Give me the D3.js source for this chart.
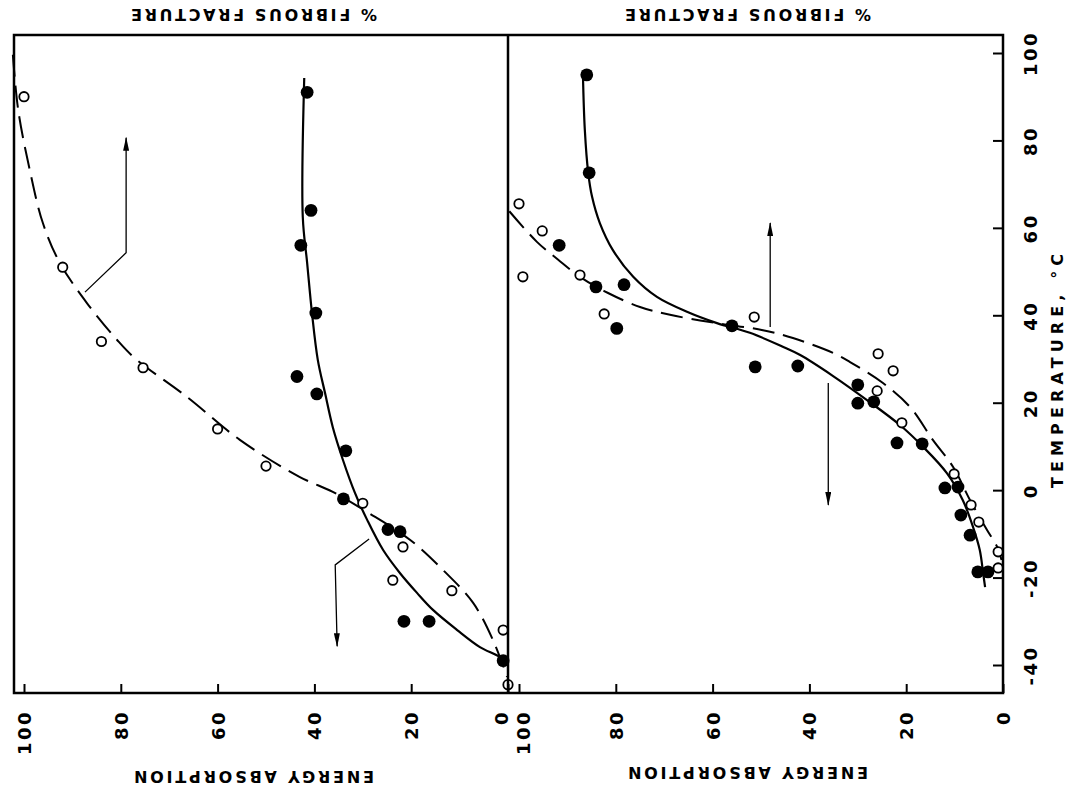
<!DOCTYPE html>
<html>
<head>
<meta charset="utf-8">
<script src="https://cdn.jsdelivr.net/npm/d3@7"></script>
<style>
  body { margin: 0; background: #fff; }
  svg { display: block; }
  text { font-family: "DejaVu Sans", sans-serif; fill: #000; }
</style>
</head>
<body>
<svg id="chart" width="1067" height="796"></svg>
<script>
// ---- tick values ----
const temperatureTicks = [-40, -20, 0, 20, 40, 60, 80, 100];
const percentTicks = [0, 20, 40, 60, 80, 100];

// ---- upper specimen (left panel); pairs are [temperature °C, percent] ----
const leftEnergyPoints = [
  [91, 41.5], [64, 40.7], [56, 42.8], [40.5, 39.7], [26, 43.6], [22, 39.5],
  [9, 33.5], [-2, 34], [-9, 24.8], [-9.5, 22.3], [-30, 21.5], [-30, 16.3], [-39, 1]
];
const leftFibrousPoints = [
  [90, 100], [51, 92], [34, 84], [28, 75.4], [14, 60], [5.5, 50], [-3, 30],
  [-13, 21.7], [-20.6, 23.8], [-23, 11.6], [-32, 1], [-44.5, 0]
];
const leftEnergyCurve = [
  [94.3, 42.1], [62.5, 42.4], [52, 41.5], [40.5, 40.5], [29.8, 39.3], [22.2, 37.8],
  [14.4, 36.2], [6.9, 34.1], [-0.7, 31.6], [-6.8, 29.1], [-13.7, 25.8], [-19, 22.3],
  [-23.5, 18.8], [-27.4, 15.5], [-32, 10.5], [-35.9, 5.8], [-38.2, 1.7], [-39.5, 0.6]
];
const leftFibrousCurve = [
  [99.6, 102.3], [87, 101.2], [73.2, 98.8], [61.1, 96.1], [52, 92.6], [42.8, 87],
  [34.4, 80.8], [30.2, 77.1], [21.3, 66.3], [11.5, 55.4], [3, 43], [-0.4, 36.2],
  [-5, 29.1], [-11.4, 20.2], [-18.3, 13.4], [-25.8, 7.2], [-34.3, 3.1], [-42.7, 0.2]
];
const leftArrowUp = [[45.3, 87.4], [54.3, 78.9], [80.6, 78.9]];
const leftArrowDown = [[-11.2, 28.7], [-17.1, 35.7], [-35.7, 35.3]];

// ---- lower specimen (right panel) ----
const rightEnergyPoints = [
  [95, 86], [72.6, 85.5], [56, 91.7], [46.5, 84.1], [47, 78.3], [37, 79.8],
  [37.6, 56], [28.2, 51.2], [28.4, 42.4], [24.1, 30], [19.9, 30], [20.2, 26.7],
  [10.8, 21.9], [10.6, 16.7], [0.5, 12], [0.7, 9.3], [-5.7, 8.7], [-10.3, 6.8],
  [-18.7, 5.2], [-18.7, 3.1]
];
const rightFibrousPoints = [
  [65.5, 100], [59.3, 95.2], [48.8, 99.2], [49.2, 87.4], [40.3, 82.4], [39.6, 51.4],
  [31.2, 25.8], [27.3, 22.7], [22.7, 26], [15.4, 20.9], [3.7, 10.1], [-3.4, 6.6],
  [-7.3, 5], [-14.1, 1], [-17.8, 1]
];
const rightEnergyCurve = [
  [95.4, 86.8], [82.4, 86.4], [72.6, 85.7], [67.1, 84.9], [61.1, 83.3], [54.9, 80.6],
  [48.8, 76.4], [44.2, 71.5], [40.8, 65.3], [38.2, 59.1], [36, 52.3], [32.8, 45.5],
  [30.9, 41.9], [26.1, 35.1], [20.6, 28.1], [14.9, 21.3], [9.9, 16.5], [3.9, 11.6],
  [-2.3, 8.3], [-8.4, 6.2], [-13.7, 4.8], [-19, 4.1], [-22.2, 3.7]
];
const rightFibrousCurve = [
  [63.8, 102], [56.8, 96.3], [52.7, 91.9], [48.8, 87.4], [45.1, 81.6],
  [41.9, 75], [40.1, 68.8], [38.2, 59.1], [36.6, 49.6], [34.8, 43.4], [31.4, 35.1],
  [29.3, 31.6], [24.5, 24.8], [19, 19.2], [11.5, 14.5], [5.3, 10.3], [-2.3, 6.8],
  [-9.1, 3.3], [-13, 1.2], [-16, 0.3]
];
const rightArrowUp = [[37.3, 48.1], [61.1, 48.1]];
const rightArrowDown = [[24.5, 36.1], [-3.4, 36.1]];

// ---- layout ----
const frame = { left: 14, right: 1003, top: 35, bottom: 693, divider: 508 };
const ink = "#000";

const svg = d3.select("#chart");
svg.append("rect").attr("width", 1067).attr("height", 796).attr("fill", "#fff");

// Temperature runs up the page; percent runs right-to-left in each panel.
const tempY = d3.scaleLinear().domain([-40, 100]).range([665, 53]);
const panels = [
  {
    x: d3.scaleLinear().domain([0, 100]).range([frame.divider, 24]),
    energyPts: leftEnergyPoints, fibrousPts: leftFibrousPoints,
    energyCurve: leftEnergyCurve, fibrousCurve: leftFibrousCurve,
    arrows: [leftArrowUp, leftArrowDown],
    labelNudge: { 0: -7 },
    titleX: 254, bottomTitleY: 776
  },
  {
    x: d3.scaleLinear().domain([0, 100]).range([frame.right, 519]),
    energyPts: rightEnergyPoints, fibrousPts: rightFibrousPoints,
    energyCurve: rightEnergyCurve, fibrousCurve: rightFibrousCurve,
    arrows: [rightArrowUp, rightArrowDown],
    labelNudge: { 100: 4 },
    titleX: 748, bottomTitleY: 772
  }
];

// arrowhead
svg.append("defs").append("marker")
  .attr("id", "head")
  .attr("viewBox", "0 0 14 6")
  .attr("refX", 13).attr("refY", 3)
  .attr("markerWidth", 14).attr("markerHeight", 6)
  .attr("markerUnits", "userSpaceOnUse")
  .attr("orient", "auto")
  .append("path").attr("d", "M0,0 L14,3 L0,6 Z").attr("fill", ink);

const chart = svg.append("g");

panels.forEach(p => {
  const line = d3.line()
    .x(d => p.x(d[1]))
    .y(d => tempY(d[0]))
    .curve(d3.curveCatmullRom.alpha(0.5));
  const straight = d3.line().x(d => p.x(d[1])).y(d => tempY(d[0]));

  // fitted curves
  chart.append("path").attr("d", line(p.fibrousCurve))
    .attr("fill", "none").attr("stroke", ink).attr("stroke-width", 2)
    .attr("stroke-dasharray", "22,9");
  chart.append("path").attr("d", line(p.energyCurve))
    .attr("fill", "none").attr("stroke", ink).attr("stroke-width", 2.2);

  // pointer arrows to the scale each curve belongs to
  p.arrows.forEach(a => {
    chart.append("path").attr("d", straight(a))
      .attr("fill", "none").attr("stroke", ink).attr("stroke-width", 1.3)
      .attr("marker-end", "url(#head)");
  });

  // data points
  chart.append("g").selectAll("circle").data(p.fibrousPts).join("circle")
    .attr("cx", d => p.x(d[1])).attr("cy", d => tempY(d[0])).attr("r", 4.7)
    .attr("fill", "#fff").attr("stroke", ink).attr("stroke-width", 1.8);
  chart.append("g").selectAll("circle").data(p.energyPts).join("circle")
    .attr("cx", d => p.x(d[1])).attr("cy", d => tempY(d[0])).attr("r", 6.4)
    .attr("fill", ink);

  // percent axis along the bottom, ticks pointing into the panel
  const ax = chart.append("g")
    .attr("transform", `translate(0,${frame.bottom})`)
    .call(d3.axisBottom(p.x).tickValues(percentTicks).tickSize(-9).tickFormat(d3.format("d")));
  ax.select(".domain").remove();
  ax.selectAll(".tick line").attr("stroke", ink).attr("stroke-width", 2);
  ax.selectAll(".tick text")
    .attr("transform", d => `translate(${p.labelNudge[d] || 0},0) rotate(-90)`)
    .attr("x", -17).attr("y", 0).attr("dy", "0.36em")
    .attr("text-anchor", "end")
    .style("font-size", "18px").style("font-weight", "bold").style("letter-spacing", "2.5px")
    .attr("fill", ink);

  // axis titles, printed upside down
  chart.append("text")
    .attr("transform", `translate(${p.titleX},${p.bottomTitleY}) rotate(180)`)
    .attr("text-anchor", "middle").attr("dominant-baseline", "central")
    .attr("textLength", 240).attr("lengthAdjust", "spacing")
    .style("font-size", "16px").style("font-weight", "bold")
    .text("ENERGY ABSORPTION");
  chart.append("text")
    .attr("transform", `translate(${p.titleX},14) rotate(180)`)
    .attr("text-anchor", "middle").attr("dominant-baseline", "central")
    .attr("textLength", 246).attr("lengthAdjust", "spacing")
    .style("font-size", "16px").style("font-weight", "bold")
    .text("% FIBROUS FRACTURE");
});

// temperature axis on the right edge
const tAx = chart.append("g")
  .attr("transform", `translate(${frame.right},0)`)
  .call(d3.axisRight(tempY).tickValues(temperatureTicks).tickSize(-10).tickFormat(d3.format("d")));
tAx.select(".domain").remove();
tAx.selectAll(".tick line").attr("stroke", ink).attr("stroke-width", 2);
tAx.selectAll(".tick text")
  .attr("transform", "rotate(-90)")
  .attr("x", 0).attr("y", 28).attr("dy", "0.36em")
  .attr("text-anchor", "middle")
  .style("font-size", "18px").style("font-weight", "bold").style("letter-spacing", "2.5px")
  .text(d => d < 0 ? "-" + Math.abs(d) : d)
  .attr("fill", ink);

chart.append("text")
  .attr("transform", "translate(1057,371) rotate(-90)")
  .attr("text-anchor", "middle").attr("dominant-baseline", "central")
  .attr("textLength", 234).attr("lengthAdjust", "spacing")
  .style("font-size", "16px").style("font-weight", "bold")
  .text("TEMPERATURE, \u00B0C");

// frame and panel divider
chart.append("rect")
  .attr("x", frame.left).attr("y", frame.top)
  .attr("width", frame.right - frame.left).attr("height", frame.bottom - frame.top)
  .attr("fill", "none").attr("stroke", ink).attr("stroke-width", 2.5);
chart.append("line")
  .attr("x1", frame.divider).attr("x2", frame.divider)
  .attr("y1", frame.top).attr("y2", frame.bottom)
  .attr("stroke", ink).attr("stroke-width", 2.5);
</script>
</body>
</html>
